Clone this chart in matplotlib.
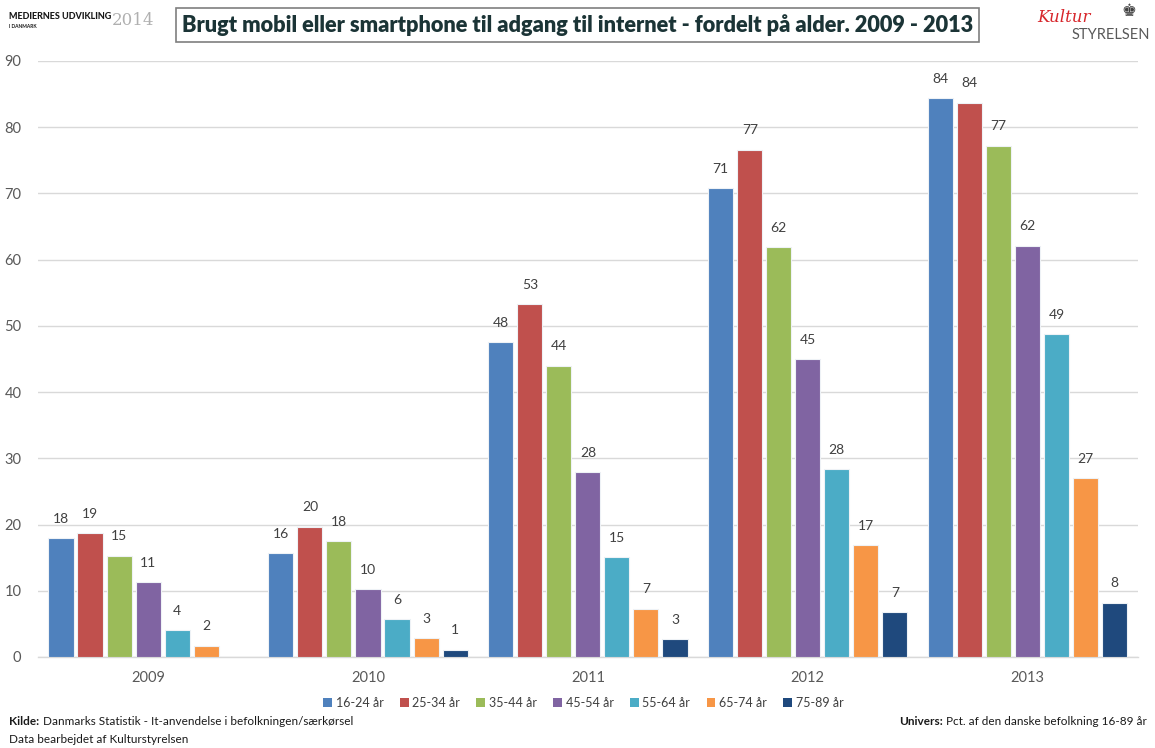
import numpy as np
import matplotlib
matplotlib.use('Agg')
import matplotlib.pyplot as plt
import matplotlib.patches as mpatches

plt.rcParams['font.family'] = ['Lato', 'DejaVu Sans']

# Andel (pct.) der bruger mobil/smartphone til internet, pr. aldersgruppe
years = ['2009', '2010', '2011', '2012', '2013']
age_groups = ['16-24 år', '25-34 år', '35-44 år', '45-54 år', '55-64 år', '65-74 år', '75-89 år']
age_16_24 = [18.0, 15.7, 47.6, 70.8, 84.4]
age_25_34 = [18.7, 19.7, 53.3, 76.6, 83.7]
age_35_44 = [15.3, 17.5, 44.0, 61.9, 77.2]
age_45_54 = [11.3, 10.3, 27.9, 45.0, 62.1]
age_55_64 = [4.1, 5.7, 15.1, 28.4, 48.8]
age_65_74 = [1.7, 2.9, 7.3, 16.9, 27.0]
age_75_89 = [np.nan, 1.1, 2.7, 6.8, 8.2]
series = [age_16_24, age_25_34, age_35_44, age_45_54, age_55_64, age_65_74, age_75_89]

colors = ['#4F81BD', '#C0504D', '#9BBB59', '#8064A2', '#4BACC6', '#F79646', '#1F497D']

fig = plt.figure(figsize=(11.55, 7.48), dpi=100)
fig.patch.set_facecolor('white')
ax = fig.add_axes([0.033, 0.1217, 0.952, 0.7968])

x = np.arange(len(years))
slot = 0.132
bar_w = 0.114
for i, (vals, col) in enumerate(zip(series, colors)):
    offs = (i - 3) * slot
    ax.bar(x + offs, vals, width=bar_w, color=col, edgecolor='#EEF2F6',
           linewidth=0.8, zorder=3, label=age_groups[i])
    for xi, v in zip(x + offs, vals):
        if np.isnan(v):
            continue
        ax.text(xi, v + 2.0, f'{v:.0f}', ha='center', va='bottom', fontsize=10,
                color='#404040', zorder=4)

ax.set_xlim(-0.5, len(years) - 0.5)
ax.set_ylim(0, 90)
ax.set_yticks(np.arange(0, 91, 10))
ax.yaxis.grid(True, color='#D9D9D9', lw=1.0, zorder=0)
ax.set_xticks(x)
ax.set_xticklabels(years)
ax.tick_params(axis='both', length=0, labelsize=10.5, colors='#595959')
ax.tick_params(axis='y', pad=12)
ax.tick_params(axis='x', pad=10)
for s in ['top', 'right', 'left']:
    ax.spines[s].set_visible(False)
ax.spines['bottom'].set_color('#D9D9D9')
ax.spines['bottom'].set_linewidth(1.0)

# Legend under the plot
handles = [mpatches.Patch(facecolor=c, edgecolor='none') for c in colors]
fig.legend(handles, age_groups, loc='center', bbox_to_anchor=(0.505, 0.06), ncol=7,
           frameon=False, fontsize=9, handlelength=0.7, handleheight=0.7,
           handletextpad=0.3, columnspacing=1.3, labelcolor='#404040')

# Title in a box
fig.text(0.5, 0.966, 'Brugt mobil eller smartphone til adgang til internet - fordelt på alder. 2009 - 2013',
         ha='center', va='center', fontsize=15.7, fontweight='heavy', color='#1B3436',
         bbox=dict(boxstyle='square,pad=0.28', facecolor='white', edgecolor='#7F7F7F', lw=1.2))

# Top-left header
fig.text(0.008, 0.978, 'MEDIERNES UDVIKLING', ha='left', va='center', fontsize=6.5,
         fontweight='black', color='#1A1A1A')
fig.text(0.008, 0.965, 'I DANMARK', ha='left', va='center', fontsize=3.5,
         fontweight='bold', color='#1A1A1A')
fig.text(0.097, 0.973, '2014', ha='left', va='center', fontsize=12,
         family=['DejaVu Serif'], color='#B0B0B0')

# Top-right header
fig.text(0.898, 0.976, 'Kultur', ha='left', va='center', fontsize=12, style='italic',
         color='#D7262B', family=['DejaVu Serif'])
fig.text(0.977, 0.985, '♚', ha='center', va='center', fontsize=12,
         family=['DejaVu Sans'], color='#404040')
fig.text(0.996, 0.953, 'STYRELSEN', ha='right', va='center', fontsize=10.5, color='#595959')

# Footer: bold lead word followed by regular text
def lead_text(xpos, ypos, lead, rest, ha='left'):
    renderer = fig.canvas.get_renderer()
    if ha == 'left':
        t = fig.text(xpos, ypos, lead, ha='left', va='center', fontsize=8.5,
                     fontweight='bold', color='#1A1A1A')
        bb = t.get_window_extent(renderer).transformed(fig.transFigure.inverted())
        fig.text(bb.x1 + 0.003, ypos, rest, ha='left', va='center', fontsize=8.5,
                 color='#1A1A1A')
    else:
        t = fig.text(xpos, ypos, rest, ha='right', va='center', fontsize=8.5,
                     color='#1A1A1A')
        bb = t.get_window_extent(renderer).transformed(fig.transFigure.inverted())
        fig.text(bb.x0 - 0.003, ypos, lead, ha='right', va='center', fontsize=8.5,
                 fontweight='bold', color='#1A1A1A')

lead_text(0.008, 0.035, 'Kilde:', 'Danmarks Statistik - It-anvendelse i befolkningen/særkørsel')
fig.text(0.008, 0.011, 'Data bearbejdet af Kulturstyrelsen', ha='left', va='center',
         fontsize=8.5, color='#1A1A1A')
lead_text(0.993, 0.035, 'Univers:', 'Pct. af den danske befolkning 16-89 år', ha='right')

fig.savefig('out.png', dpi=100, facecolor='white')
